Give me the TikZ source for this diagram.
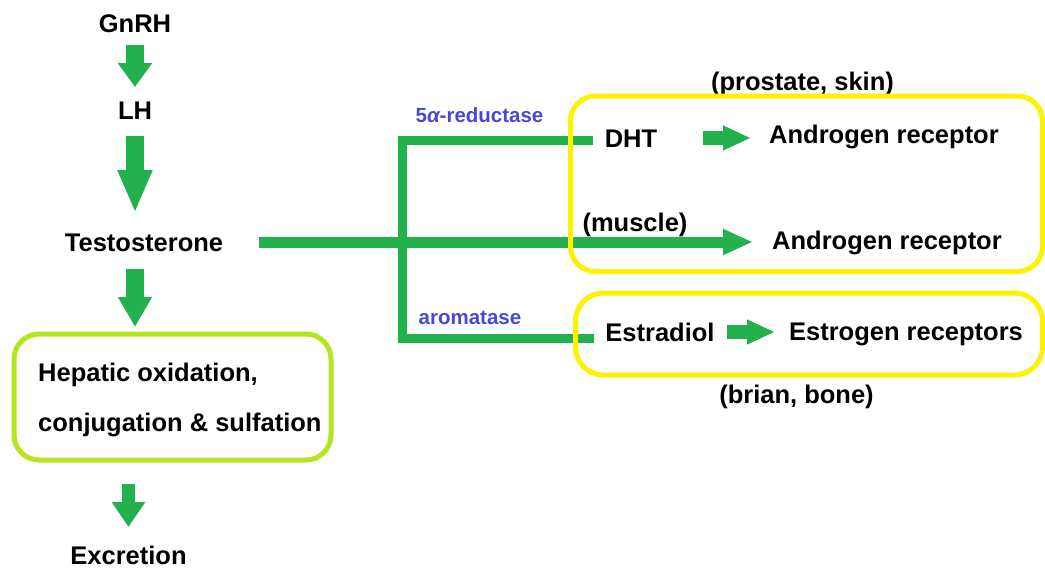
\documentclass[tikz,border=0pt]{standalone}
\usepackage{fontspec}
\setmainfont{Liberation Sans}
\usetikzlibrary{arrows.meta,calc}
\definecolor{pgreen}{RGB}{34,177,76}
\definecolor{plime}{RGB}{181,230,29}
\definecolor{pyellow}{RGB}{255,242,0}
\definecolor{pblue}{RGB}{72,72,212}
\tikzset{
  lbl/.style={font=\fontsize{25.5}{30}\selectfont\bfseries, inner sep=0pt, text=black},
  enz/.style={font=\fontsize{20.5}{24}\selectfont\bfseries, inner sep=0pt, text=pblue},
  varrow/.style={draw=pgreen, line width=#1},
  hearrow/.style={draw=pgreen, line width=14pt, -{Triangle[length=28pt,width=23pt]}},
  mainline/.style={draw=pgreen, line width=11pt, -{Triangle[length=30pt,width=24pt]}},
  branchline/.style={draw=pgreen, line width=9pt, line join=miter},
  hepbox/.style={draw=plime, line width=5pt, rounded corners=25pt, minimum width=317pt, minimum height=126pt, inner sep=0pt},
  ybox/.style={draw=pyellow, line width=5pt},
}
\begin{document}
\begin{tikzpicture}[x=1pt,y=-1pt]
\useasboundingbox (0,0) rectangle (1045,570);
% left column
\node[lbl] (gnrh) at (135,24) {GnRH};
\node[lbl] (lh) at (135,111) {LH};
\node[lbl] (testo) at (144,243) {Testosterone};
\node[hepbox] (hep) at (172.5,397) {};
\node[lbl, anchor=west] (hep1) at (38,375) {Hepatic oxidation,};
\node[lbl, anchor=west] (hep2) at (38,425) {conjugation \& sulfation};
\node[lbl] (exc) at (128.5,555.5) {Excretion};
% right side
\node[lbl] (dht) at (631,139) {DHT};
\node[lbl] (ar1) at (884,137) {Androgen receptor};
\node[lbl] (ar2) at (887,243) {Androgen receptor};
\node[lbl] (estr) at (660,332) {Estradiol};
\node[lbl] (er) at (906,334.5) {Estrogen receptors};
\node[lbl] (prost) at (802.5,84) {(prostate, skin)};
\node[lbl] (muscle) at (635,225) {(muscle)};
\node[lbl] (brian) at (796.5,397) {(brian, bone)};
\node[enz] (red) at (479.5,115) {5{\itshape α}-reductase};
\node[enz] (arom) at (470,318) {aromatase};
% vertical block arrows
\draw[varrow=18pt, -{Triangle[length=24pt,width=33pt]}] ([yshift=-21pt]gnrh.center) -- ([yshift=24pt]lh.center);
\draw[varrow=18pt, -{Triangle[length=43pt,width=32pt]}] ([yshift=-25pt]lh.center) -- ($(lh.center |- testo.center)+(0,-30)$);
\draw[varrow=18pt, -{Triangle[length=30pt,width=32pt]}] ($(testo.center)+(-9,25.5)$) -- ($(hep.north -| testo.center)+(-9,-4.5)$);
\draw[varrow=12.5pt, -{Triangle[length=25pt,width=32pt]}] ($(hep.south -| exc.center)+(0,21.5)$) -- ([yshift=28.5pt]exc.center);
% green lines
\coordinate (br) at (402,242);
\draw[branchline] ($(dht.center)+(-38,1)$) -| (br) |- ($(estr.center)+(-66,6)$);
\draw[mainline] ([xshift=115pt,yshift=1pt]testo.center) -- ($(testo.center -| ar2.center)+(-134,-1)$);
\draw[hearrow] ([xshift=72pt,yshift=1pt]dht.center) -- ($(dht.center -| ar1.center)+(-133,-1)$);
\draw[hearrow] ([xshift=67pt]estr.center) -- ($(estr.center -| er.center)+(-131,0)$);
% yellow boxes
\draw[ybox, rounded corners=25pt] (570.5,96) rectangle (1042.5,271.5);
\draw[ybox, rounded corners=28pt] (575.5,293) rectangle (1042.5,375);
\end{tikzpicture}
\end{document}
